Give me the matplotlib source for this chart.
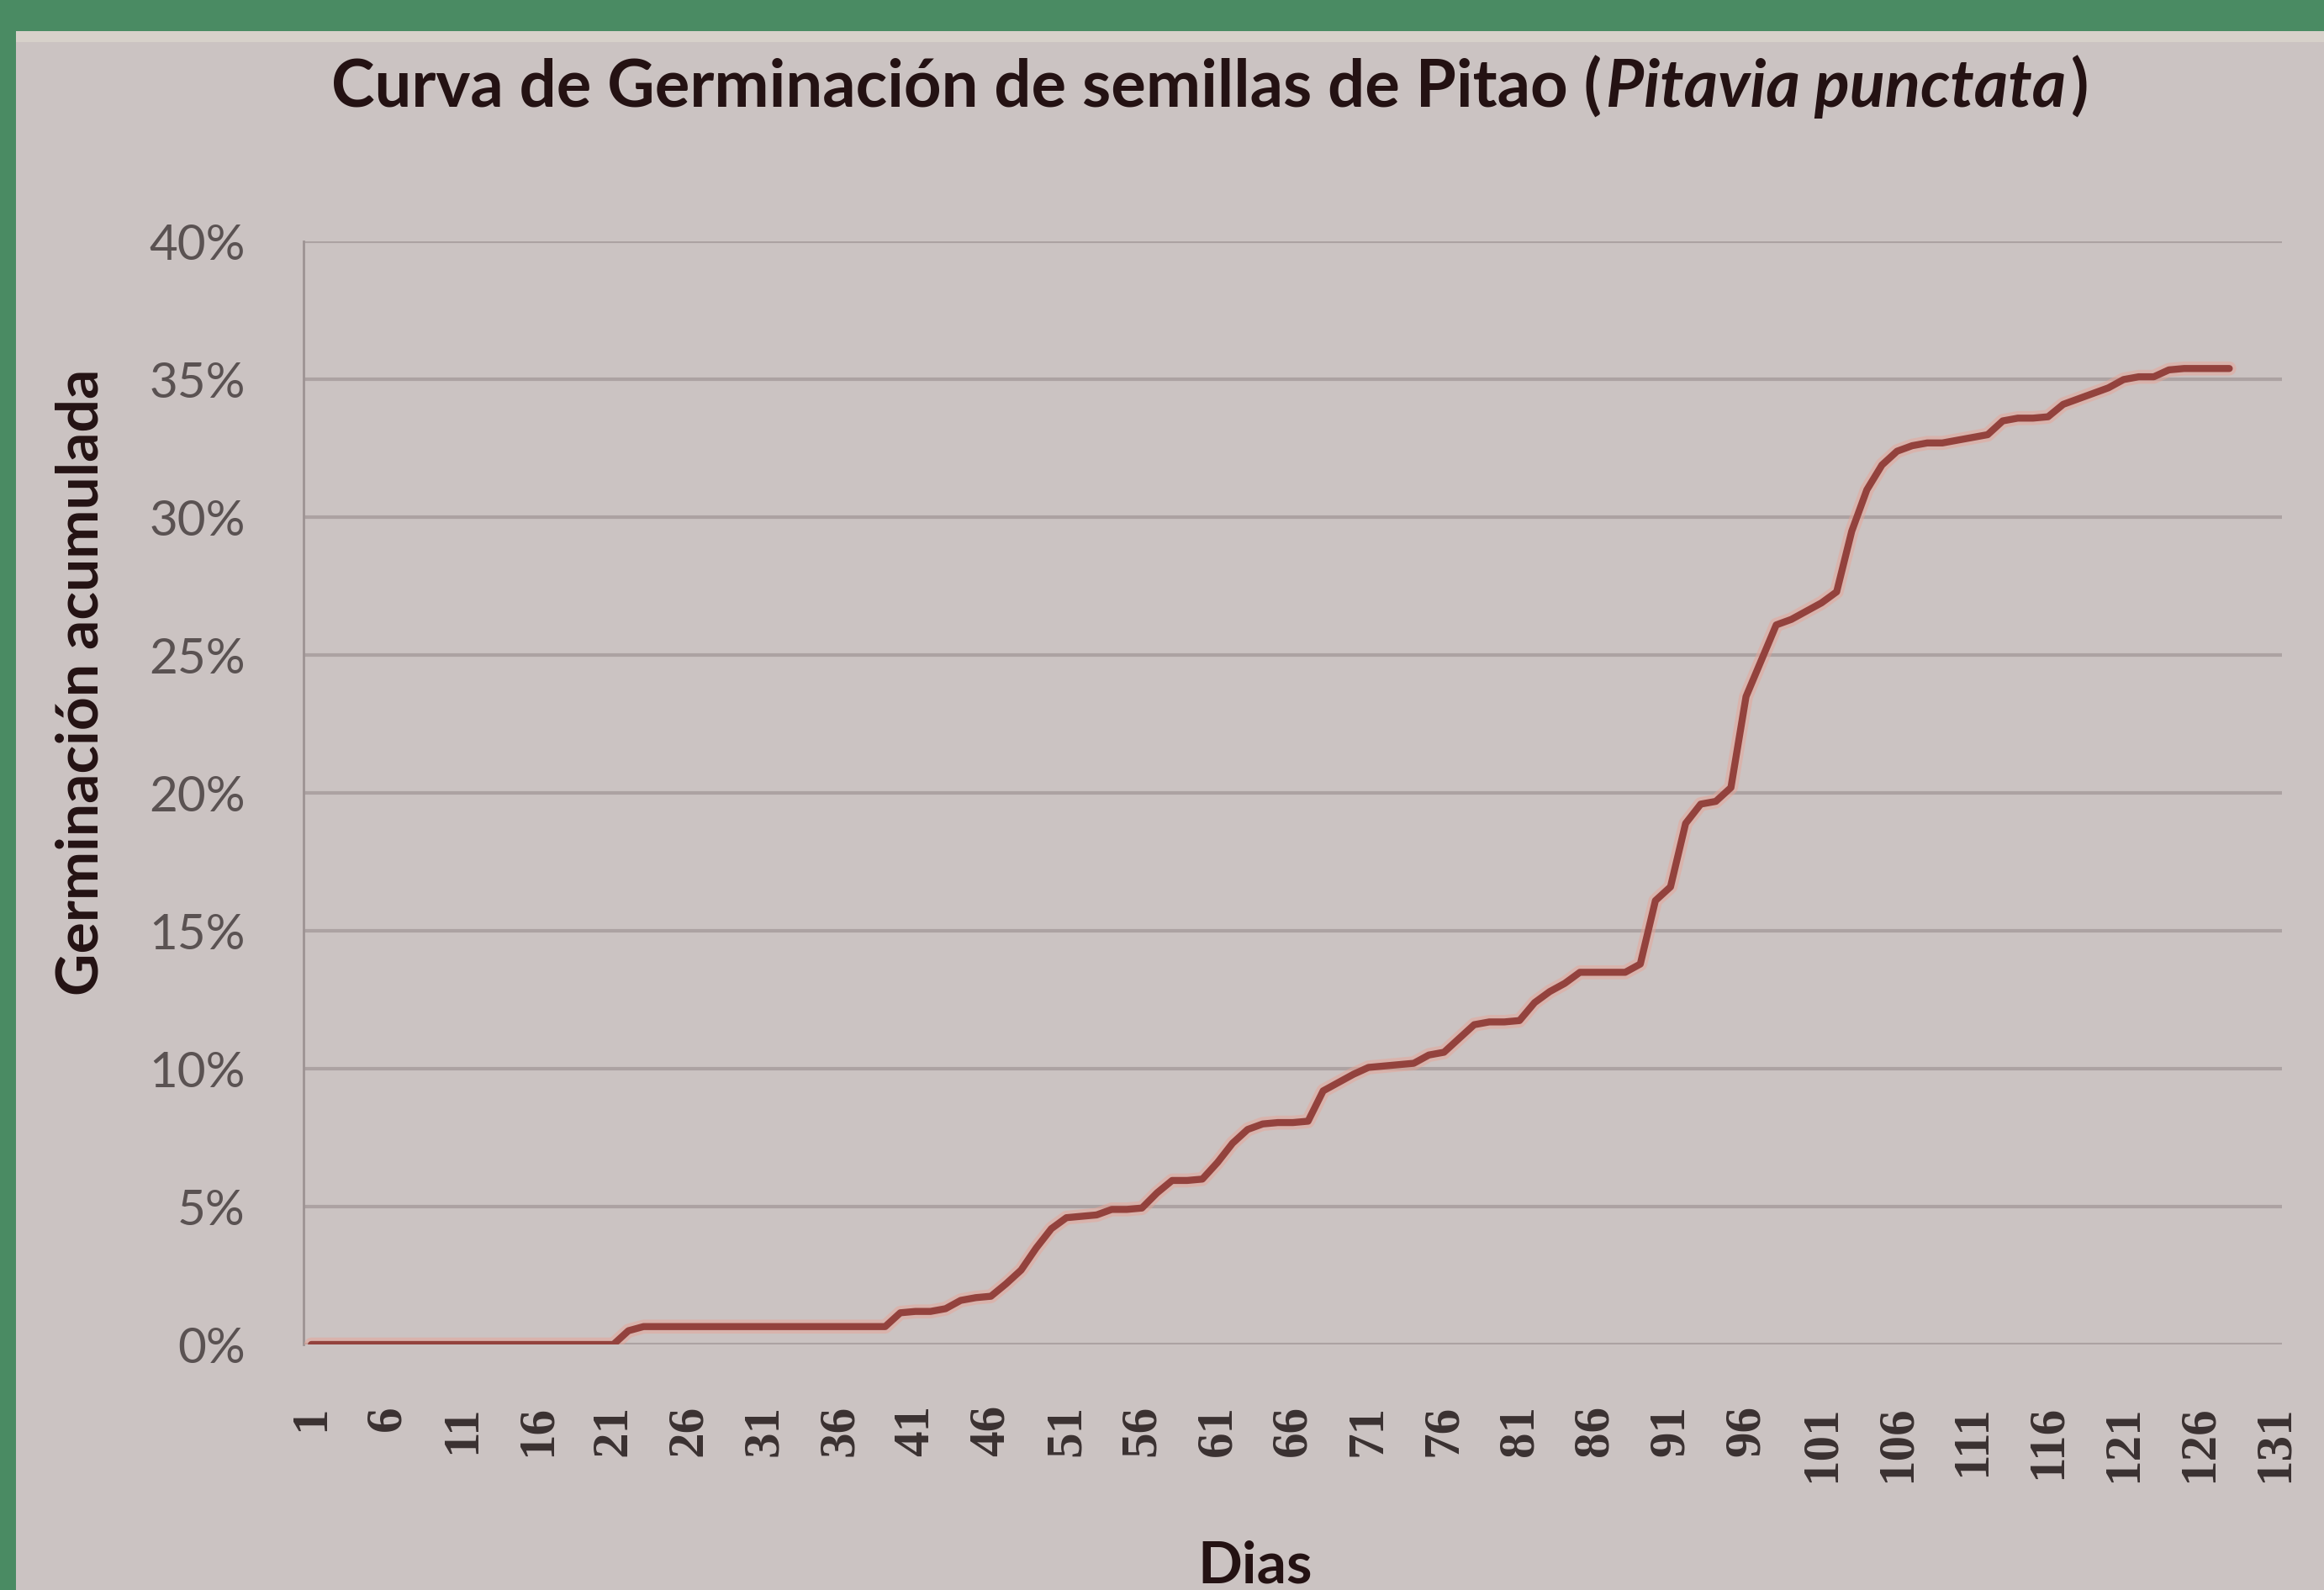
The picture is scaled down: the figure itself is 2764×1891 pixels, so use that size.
import matplotlib
matplotlib.use("Agg")
import matplotlib.pyplot as plt
from matplotlib.patches import Rectangle
from matplotlib.ticker import FuncFormatter

# ---------------- data ----------------
days = list(range(1, 129))
germinacion = [
    0, 0, 0, 0, 0, 0, 0, 0, 0, 0,
    0, 0, 0, 0, 0, 0, 0, 0, 0, 0,
    0, 0.5, 0.65, 0.65, 0.65, 0.65, 0.65, 0.65, 0.65, 0.65,
    0.65, 0.65, 0.65, 0.65, 0.65, 0.65, 0.65, 0.65, 0.65, 1.15,
    1.2, 1.2, 1.3, 1.6, 1.7, 1.75, 2.2, 2.7, 3.5, 4.2,
    4.6, 4.65, 4.7, 4.9, 4.9, 4.95, 5.5, 5.95, 5.95, 6.0,
    6.6, 7.3, 7.8, 8.0, 8.05, 8.05, 8.1, 9.2, 9.5, 9.8,
    10.05, 10.1, 10.15, 10.2, 10.5, 10.6, 11.1, 11.6, 11.7, 11.7,
    11.75, 12.4, 12.8, 13.1, 13.5, 13.5, 13.5, 13.5, 13.8, 16.1,
    16.6, 18.9, 19.6, 19.7, 20.2, 23.5, 24.8, 26.1, 26.3, 26.6,
    26.9, 27.3, 29.5, 31.0, 31.9, 32.4, 32.6, 32.7, 32.7, 32.8,
    32.9, 33.0, 33.5, 33.6, 33.6, 33.65, 34.1, 34.3, 34.5, 34.7,
    35.0, 35.1, 35.1, 35.35, 35.4, 35.4, 35.4, 35.4,
]
x_ticks = [1, 6, 11, 16, 21, 26, 31, 36, 41, 46, 51, 56, 61, 66, 71, 76,
           81, 86, 91, 96, 101, 106, 111, 116, 121, 126, 131]
y_ticks = [0, 5, 10, 15, 20, 25, 30, 35, 40]

title_a = "Curva de Germinación de semillas de Pitao ("
title_b = "Pitavia punctata"
title_c = ")"
y_label = "Germinación acumulada"
x_label = "Dias"

# ---------------- style ----------------
BG = "#cbc3c2"
GREEN = "#4a8b63"
DARK = "#241213"
SANS = ["Lato", "DejaVu Sans"]
SERIF = ["Liberation Serif", "DejaVu Serif"]

fig = plt.figure(figsize=(27.64, 18.91), dpi=100, facecolor=BG)

# photo frame: green poster border (top / left) and light edge
fig.patches.append(Rectangle((0, 0.9800), 1, 0.0200, transform=fig.transFigure,
                             facecolor=GREEN, edgecolor="none", zorder=0))
fig.patches.append(Rectangle((0.0068, 0.9735), 1, 0.0068, transform=fig.transFigure,
                             facecolor="#d7d1ca", edgecolor="none", zorder=0))
fig.patches.append(Rectangle((0, 0), 0.0068, 1, transform=fig.transFigure,
                             facecolor=GREEN, edgecolor="none", zorder=0))

ax = fig.add_axes([0.1307, 0.1544, 0.8513, 0.6936])
ax.set_facecolor("none")

ax.plot(days, germinacion, color="#e8a597", lw=12, alpha=0.5,
        solid_joinstyle="round", solid_capstyle="round", zorder=3)
ax.plot(days, germinacion, color="#93423d", lw=6,
        solid_joinstyle="round", solid_capstyle="round", zorder=4)

ax.set_xlim(0.5, 131.5)
ax.set_ylim(0, 40)
ax.set_yticks(y_ticks)
ax.set_xticks(x_ticks)
ax.yaxis.set_major_formatter(FuncFormatter(lambda v, p: f"{int(v)}%"))
ax.set_xticklabels([str(t) for t in x_ticks], rotation=90)

ax.yaxis.grid(True, color="#aca2a2", lw=3)
ax.xaxis.grid(False)
ax.set_axisbelow(True)
for s in ["top", "right", "bottom"]:
    ax.spines[s].set_visible(False)
ax.spines["left"].set_color("#9d9393")
ax.spines["left"].set_linewidth(2)

ax.tick_params(axis="y", length=0, pad=50, labelsize=42, labelcolor="#5a5252")
ax.tick_params(axis="x", length=0, pad=52, labelsize=44, labelcolor="#3a3131")
for lab in ax.get_yticklabels():
    lab.set_family(SANS)
for lab in ax.get_xticklabels():
    lab.set_family(SERIF)
    lab.set_fontweight("bold")

# title built from three pieces (normal bold + italic bold)
title_size = 56
ta = fig.text(0, 0.9328, title_a, fontsize=title_size, fontweight="bold",
              family=SANS, color=DARK, va="baseline", ha="left")
tb = fig.text(0, 0.9328, title_b, fontsize=title_size, fontweight="bold",
              style="italic", family=SANS, color=DARK, va="baseline", ha="left")
tc = fig.text(0, 0.9328, title_c, fontsize=title_size, fontweight="bold",
              family=SANS, color=DARK, va="baseline", ha="left")
fig.canvas.draw()
r = fig.canvas.get_renderer()
W = fig.bbox.width
wa = ta.get_window_extent(r).width / W
wb = tb.get_window_extent(r).width / W
wc = tc.get_window_extent(r).width / W
x0 = 0.5186 - (wa + wb + wc) / 2
ta.set_x(x0)
tb.set_x(x0 + wa + 0.002)
tc.set_x(x0 + wa + wb + 0.004)

fig.text(0.035, 0.571, y_label, rotation=90, ha="center", va="center",
         fontsize=50, fontweight="bold", family=SANS, color=DARK)
fig.text(0.540, 0.0044, x_label, ha="center", va="baseline",
         fontsize=50, fontweight="bold", family=SANS, color=DARK)

fig.savefig("out.png", dpi=100, facecolor=BG)
